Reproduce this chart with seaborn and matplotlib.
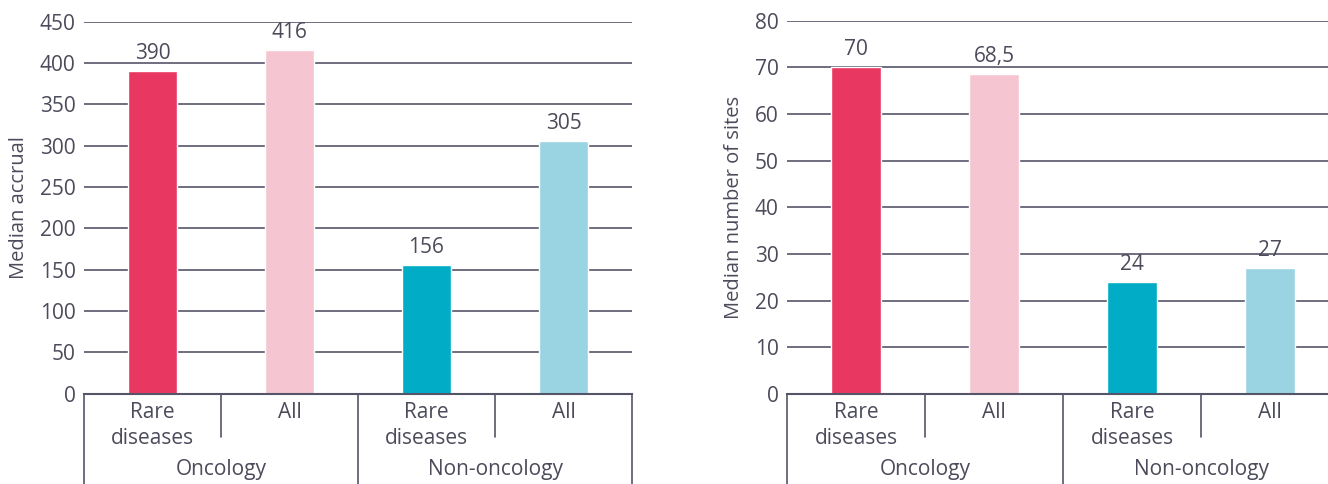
import matplotlib
matplotlib.use("Agg")
import matplotlib.pyplot as plt
import matplotlib.transforms as mtransforms
import seaborn as sns
import pandas as pd

# Data
subgroups = ["Rare\ndiseases", "All", "Rare\ndiseases", "All"]
groups = ["Oncology", "Non-oncology"]
accrual = [390, 416, 156, 305]
sites = [70, 68.5, 24, 27]
bar_colors = ["#E83862", "#F6C5D2", "#00ACC6", "#9AD4E3"]

TEXT = "#4b4b5b"
GRID = "#55556a"
FS = 15

sns.set_theme(style="white")
plt.rcParams["font.family"] = ["Open Sans", "DejaVu Sans"]
plt.rcParams["text.color"] = TEXT
plt.rcParams["axes.labelcolor"] = TEXT
plt.rcParams["ytick.color"] = TEXT

W, H = 1328, 484
fig = plt.figure(figsize=(W / 100, H / 100), dpi=100)


def fmt(v):
    return f"{v:g}".replace(".", ",")


def panel(rect_px, values, ymax, ystep, ylabel):
    x0, x1, ytop, ybot = rect_px
    ax = fig.add_axes([x0 / W, (H - ybot) / H, (x1 - x0) / W, (ybot - ytop) / H])
    df = pd.DataFrame({"pos": [str(i) for i in range(len(values))], "value": values})
    sns.barplot(data=df, x="pos", y="value", hue="pos", palette=bar_colors,
                legend=False, width=0.36, ax=ax, saturation=1)
    ax.set_xlim(-0.5, len(values) - 0.5)
    ax.set_ylim(0, ymax)
    ax.set_yticks(range(0, ymax + 1, ystep))
    ax.tick_params(axis="y", length=0, pad=6, labelsize=FS, colors=TEXT)
    ax.set_xticks([])
    ax.set_xlabel("")
    ax.set_ylabel(ylabel, fontsize=14.5, color=TEXT, labelpad=8)
    ax.yaxis.grid(True, color=GRID, linewidth=1.2)
    ax.set_axisbelow(True)
    for s in ["left", "right", "top"]:
        ax.spines[s].set_visible(False)
    ax.spines["bottom"].set_color(GRID)
    ax.spines["bottom"].set_linewidth(1.5)

    for p, v in zip(ax.patches, values):
        ax.annotate(fmt(v), (p.get_x() + p.get_width() / 2, p.get_height()),
                    xytext=(0, 5), textcoords="offset points",
                    ha="center", va="bottom", fontsize=FS, color=TEXT)

    # category separators and labels below the baseline
    tr = mtransforms.blended_transform_factory(ax.transData, fig.transFigure)
    n = len(values)
    for k in range(n + 1):
        xs = k - 0.5
        y_end = 0 if k % 2 == 0 else (H - 437) / H
        ax.plot([xs, xs], [(H - ybot) / H, y_end], transform=tr,
                color=GRID, linewidth=1.2, clip_on=False)
    for i, lab in enumerate(subgroups):
        ax.text(i, (H - 402) / H, lab, transform=tr, ha="center", va="top",
                fontsize=FS, color=TEXT, linespacing=1.3)
    for g, name in enumerate(groups):
        ax.text(2 * g + 0.5, (H - 469) / H, name, transform=tr, ha="center",
                va="center", fontsize=FS, color=TEXT)
    return ax


panel((84, 632, 21.5, 393.5), accrual, 450, 50, "Median accrual")
panel((787, 1339, 20.7, 394), sites, 80, 10, "Median number of sites")

fig.savefig("out.png", dpi=100)
